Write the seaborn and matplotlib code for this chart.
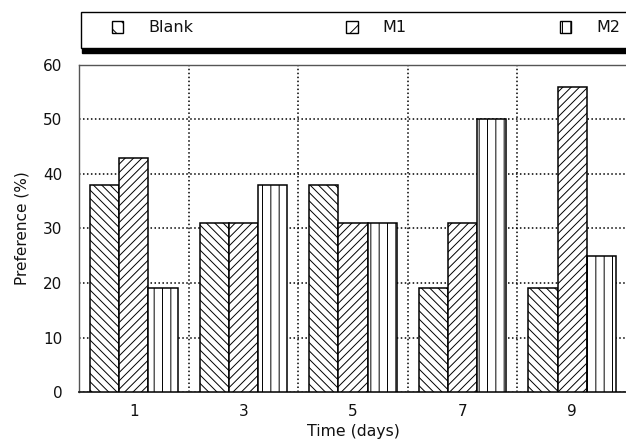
import matplotlib
matplotlib.use("Agg")
import matplotlib.pyplot as plt
import matplotlib.patches as mpatches
import seaborn as sns
import pandas as pd

days = ["1", "3", "5", "7", "9"]
treatments = ["Blank", "M1", "M2"]
blank = [38, 31, 38, 19, 19]
m1 = [43, 31, 31, 31, 56]
m2 = [19, 38, 31, 50, 25]
hatches = ["\\\\\\\\", "////", "||"]
legend_hatches = ["\\\\", "//", "||"]
yticks = [0, 10, 20, 30, 40, 50, 60]

rows = []
for t, vals in zip(treatments, [blank, m1, m2]):
    for d, v in zip(days, vals):
        rows.append({"day": d, "value": v, "treatment": t})
df = pd.DataFrame(rows)

sns.set_theme(style="white")
plt.rcParams["font.family"] = ["DejaVu Sans"]
plt.rcParams["hatch.linewidth"] = 0.7
plt.rcParams["text.color"] = "#111111"

W, H = 626, 442
fig = plt.figure(figsize=(W / 100, H / 100), dpi=100)
ax = fig.add_axes([79 / W, 1 - 392 / H, (627 - 79) / W, (392 - 65) / H])

sns.barplot(data=df, x="day", y="value", hue="treatment", order=days,
            hue_order=treatments, palette={t: "white" for t in treatments},
            saturation=1, edgecolor="black", linewidth=1.1, width=0.8, gap=0,
            legend=False, ax=ax, zorder=3)

for cont, h in zip(ax.containers, hatches):
    for bar in cont:
        bar.set_hatch(h)
        bar.set_edgecolor("black")

ax.set_xlim(-0.5, len(days) - 0.5)
ax.set_ylim(0, 60)
ax.set_yticks(yticks)
ax.set_xticks(range(len(days)))
ax.set_xticklabels(days)
ax.set_xticks([i + 0.5 for i in range(len(days) - 1)], minor=True)

ax.grid(False)
ax.yaxis.grid(True, which="major", color="black", linestyle=(0, (1, 1.6)), linewidth=1.1, zorder=1)
ax.xaxis.grid(True, which="minor", color="black", linestyle=(0, (1, 1.6)), linewidth=1.1, zorder=1)
ax.set_axisbelow(True)

ax.tick_params(axis="y", length=0, pad=12, labelsize=11, labelcolor="#111111")
ax.tick_params(axis="x", which="both", length=0, pad=9, labelsize=11, labelcolor="#111111")

ax.set_xlabel("Time (days)", fontsize=11.3, labelpad=3, color="#111111")
ax.set_ylabel("Preference (%)", fontsize=11, labelpad=10, color="#111111")

for s in ["top", "left"]:
    ax.spines[s].set_color("#555555")
    ax.spines[s].set_linewidth(1.0)
ax.spines["bottom"].set_color("#222222")
ax.spines["bottom"].set_linewidth(1.3)
ax.spines["right"].set_visible(False)

# legend frame with shadow
bx0, bx1, by0, by1 = 81, 720, 12, 48
shadow = mpatches.Rectangle(((bx0 + 1) / W, 1 - (by1 + 5) / H), (bx1 - bx0) / W, (by1 - by0) / H,
                            transform=fig.transFigure, facecolor="black", edgecolor="black", zorder=1)
frame = mpatches.Rectangle((bx0 / W, 1 - by1 / H), (bx1 - bx0) / W, (by1 - by0) / H,
                           transform=fig.transFigure, facecolor="white", edgecolor="black",
                           linewidth=1.0, zorder=2)
fig.patches.extend([shadow, frame])

handles = [mpatches.Patch(facecolor="white", edgecolor="black", hatch=h, linewidth=1.0)
           for h in legend_hatches]
fig.legend(handles, treatments, loc="center", mode="expand", ncol=3,
           bbox_to_anchor=(112 / W, 1 - 36 / H, (620 - 112) / W, 16 / H),
           frameon=False, borderpad=0, borderaxespad=0, handlelength=0.7,
           handleheight=0.7, handletextpad=1.55, fontsize=11.5)

fig.savefig("out.png", dpi=100)
